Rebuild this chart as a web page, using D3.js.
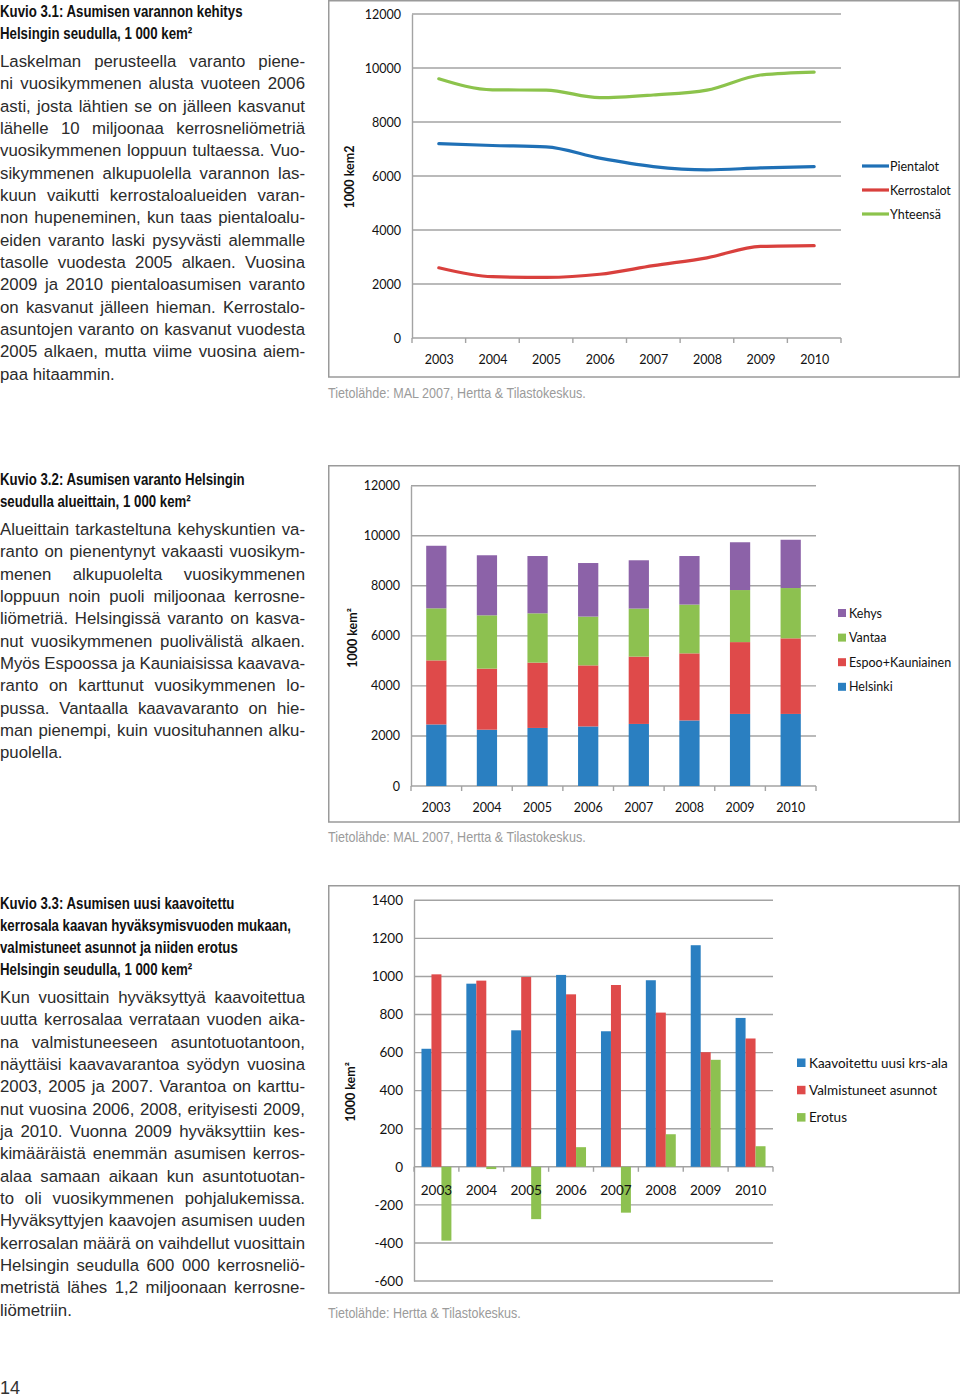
<!DOCTYPE html>
<html>
<head>
<meta charset="utf-8">
<script src="https://cdn.jsdelivr.net/npm/d3@7"></script>
<style>
  html, body { margin: 0; padding: 0; background: #fff; }
  svg { display: block; }
</style>
</head>
<body>
<script>
// ---------------- DATA ----------------
const years = ["2003", "2004", "2005", "2006", "2007", "2008", "2009", "2010"];

// Kuvio 3.1
const pientalot   = [7200, 7130, 7080, 6660, 6350, 6230, 6300, 6350];
const kerrostalot = [2600, 2270, 2245, 2360, 2680, 2970, 3390, 3420];
const yhteensa    = [9600, 9190, 9180, 8900, 9000, 9180, 9740, 9850];
const yTicks1 = [0, 2000, 4000, 6000, 8000, 10000, 12000];

// Kuvio 3.2
const helsinki = [2460, 2250, 2320, 2380, 2480, 2620, 2880, 2880];
const espoo    = [2560, 2440, 2610, 2440, 2690, 2680, 2870, 3020];
const vantaa   = [2080, 2130, 1970, 1950, 1920, 1950, 2080, 2010];
const kehys    = [2500, 2400, 2290, 2140, 1930, 1940, 1910, 1930];
const yTicks2 = [0, 2000, 4000, 6000, 8000, 10000, 12000];

// Kuvio 3.3
const kaavoitettu  = [620, 962, 717, 1008, 712, 980, 1164, 782];
const valmistuneet = [1011, 978, 997, 906, 955, 810, 602, 674];
const erotus       = [-388, -12, -275, 103, -241, 171, 562, 108];
const yTicks3 = [-600, -400, -200, 0, 200, 400, 600, 800, 1000, 1200, 1400];

// ---------------- STYLE ----------------
const BODY = "'Liberation Sans', Arial, Helvetica, sans-serif";
const COND = "'Liberation Sans', Arial, sans-serif";
const CHART = "Lato, 'Open Sans', sans-serif";
const C_BLUE = "#2a7fc1", C_RED = "#df4a4a", C_GREEN = "#8dc150", C_PURPLE = "#8c62a8";
const L_BLUE = "#1f70b6", L_RED = "#d9403d", L_GREEN = "#8cc34c";
const GRID = "#a3a3a3";

const svg = d3.select("body").append("svg").attr("width", 960).attr("height", 1399);

// ---------------- LEFT TEXT ----------------
let titleScale = null;
function getTitleScale() {
  if (titleScale) return titleScale;
  const probe = svg.append("text").attr("font-family", COND).attr("font-weight", "bold")
    .attr("font-size", 16).text("kerrosala kaavan hyväksymisvuoden mukaan,");
  const w = probe.node().getComputedTextLength();
  probe.remove();
  titleScale = 291 / w;
  return titleScale;
}
function titleBlock(lines, yFirst) {
  const s = getTitleScale();
  const g = svg.append("g").attr("transform", `scale(${s},1)`);
  lines.forEach((t, i) => {
    g.append("text").attr("x", 0).attr("y", yFirst + i * 22).attr("dy", "0.36em")
      .attr("font-family", COND).attr("font-weight", "bold").attr("font-size", 16)
      .attr("fill", "#111").text(t);
  });
}
function bodyBlock(lines, yFirst, width) {
  const g = svg.append("g");
  lines.forEach((t, i) => {
    const txt = g.append("text").attr("x", 0).attr("y", yFirst + i * 22.32).attr("dy", "0.36em")
      .attr("font-family", BODY).attr("font-size", 16.8).attr("fill", "#2b2b2b")
      .text(t);
    const node = txt.node();
    const nat = node.getComputedTextLength();
    const last = i === lines.length - 1;
    if (!last) {
      const spaces = (t.match(/ /g) || []).length;
      if (nat < width && spaces > 0) {
        txt.style("word-spacing", ((width - nat) / spaces) + "px");
      } else if (nat > width) {
        txt.attr("textLength", width).attr("lengthAdjust", "spacing");
      }
    } else if (nat > width) {
      txt.attr("textLength", width).attr("lengthAdjust", "spacing");
    }
  });
}

titleBlock(["Kuvio 3.1: Asumisen varannon kehitys", "Helsingin seudulla, 1 000 kem²"], 11);
bodyBlock([
  "Laskelman perusteella varanto piene-",
  "ni vuosikymmenen alusta vuoteen 2006",
  "asti, josta lähtien se on jälleen kasvanut",
  "lähelle 10 miljoonaa kerrosneliömetriä",
  "vuosikymmenen loppuun tultaessa. Vuo-",
  "sikymmenen alkupuolella varannon las-",
  "kuun vaikutti kerrostaloalueiden varan-",
  "non hupeneminen, kun taas pientaloalu-",
  "eiden varanto laski pysyvästi alemmalle",
  "tasolle vuodesta 2005 alkaen. Vuosina",
  "2009 ja 2010 pientaloasumisen varanto",
  "on kasvanut jälleen hieman. Kerrostalo-",
  "asuntojen varanto on kasvanut vuodesta",
  "2005 alkaen, mutta viime vuosina aiem-",
  "paa hitaammin."
], 61, 305);

titleBlock(["Kuvio 3.2: Asumisen varanto Helsingin", "seudulla alueittain, 1 000 kem²"], 479);
bodyBlock([
  "Alueittain tarkasteltuna kehyskuntien va-",
  "ranto on pienentynyt vakaasti vuosikym-",
  "menen alkupuolelta vuosikymmenen",
  "loppuun noin puoli miljoonaa kerrosne-",
  "liömetriä. Helsingissä varanto on kasva-",
  "nut vuosikymmenen puolivälistä alkaen.",
  "Myös Espoossa ja Kauniaisissa kaavava-",
  "ranto on karttunut vuosikymmenen lo-",
  "pussa. Vantaalla kaavavaranto on hie-",
  "man pienempi, kuin vuosituhannen alku-",
  "puolella."
], 529, 305);

titleBlock(["Kuvio 3.3: Asumisen uusi kaavoitettu",
            "kerrosala kaavan hyväksymisvuoden mukaan,",
            "valmistuneet asunnot ja niiden erotus",
            "Helsingin seudulla, 1 000 kem²"], 903);
bodyBlock([
  "Kun vuosittain hyväksyttyä kaavoitettua",
  "uutta kerrosalaa verrataan vuoden aika-",
  "na valmistuneeseen asuntotuotantoon,",
  "näyttäisi kaavavarantoa syödyn vuosina",
  "2003, 2005 ja 2007. Varantoa on karttu-",
  "nut vuosina 2006, 2008, erityisesti 2009,",
  "ja 2010. Vuonna 2009 hyväksyttiin kes-",
  "kimääräistä enemmän asumisen kerros-",
  "alaa samaan aikaan kun asuntotuotan-",
  "to oli vuosikymmenen pohjalukemissa.",
  "Hyväksyttyjen kaavojen asumisen uuden",
  "kerrosalan määrä on vaihdellut vuosittain",
  "Helsingin seudulla 600 000 kerrosneliö-",
  "metristä lähes 1,2 miljoonaan kerrosne-",
  "liömetriin."
], 997, 305);

svg.append("text").attr("x", 0).attr("y", 1388).attr("dy", "0.36em")
  .attr("font-family", BODY).attr("font-size", 18).attr("fill", "#333").text("14");

// ---------------- HELPERS ----------------
function frame(y0, y1) {
  svg.append("rect").attr("x", 328.75).attr("y", y0).attr("width", 630.5).attr("height", y1 - y0)
    .attr("fill", "none").attr("stroke", "#9a9a9a").attr("stroke-width", 1.5);
}
function source(t, y, targetW) {
  const probe = svg.append("text").attr("font-family", COND).attr("font-size", 14).text(t);
  const w = probe.node().getComputedTextLength();
  probe.remove();
  const s = targetW / w;
  svg.append("g").attr("transform", `translate(328,0) scale(${s},1)`)
    .append("text").attr("x", 0).attr("y", y).attr("dy", "0.36em")
    .attr("font-family", COND).attr("font-size", 14).attr("fill", "#9b9b9b").text(t);
}
function yTitle(x, yc, t) {
  svg.append("text").attr("transform", `translate(${x},${yc}) rotate(-90)`)
    .attr("text-anchor", "middle").attr("dy", "0.36em")
    .attr("font-family", CHART).attr("font-weight", "bold").attr("font-size", 12.5)
    .attr("fill", "#111").text(t);
}
function grid(g, y, ticks, x0, x1) {
  g.selectAll(null).data(ticks).join("line")
    .attr("x1", x0).attr("x2", x1).attr("y1", d => y(d)).attr("y2", d => y(d))
    .attr("stroke", GRID).attr("stroke-width", 1.4);
}
function yAxis(g, y, ticks, x0, fs) {
  const ax = g.append("g").attr("transform", `translate(${x0},0)`)
    .call(d3.axisLeft(y).tickValues(ticks).tickSize(0).tickPadding(11).tickFormat(d => String(d)));
  ax.select(".domain").attr("stroke", GRID).attr("stroke-width", 1.4);
  ax.selectAll("text").attr("font-family", CHART).attr("font-size", fs).attr("fill", "#111");
}
function xAxis(g, x, yPos, labelOffset, fs, boundaries) {
  const ax = g.append("g").attr("transform", `translate(0,${yPos})`)
    .call(d3.axisBottom(x).tickSize(0).tickPadding(labelOffset));
  ax.select(".domain").remove();
  ax.selectAll("text").attr("font-family", CHART).attr("font-size", fs).attr("fill", "#111");
  g.selectAll(null).data(boundaries).join("line")
    .attr("x1", d => d).attr("x2", d => d).attr("y1", yPos).attr("y2", yPos + 5)
    .attr("stroke", GRID).attr("stroke-width", 1.4);
  return ax;
}

// ---------------- CHART 1 ----------------
{
  frame(0.75, 377);
  const g = svg.append("g");
  const x = d3.scalePoint().domain(years).range([412, 841]).padding(0.5);
  const y = d3.scaleLinear().domain([0, 12000]).range([338, 14]);
  grid(g, y, yTicks1, 412, 841);
  yAxis(g, y, yTicks1, 412, 12.5);
  const step = x.step();
  const bounds = d3.range(years.length + 1).map(i => 412 + i * step);
  xAxis(g, x, 338, 17, 12.5, bounds);
  yTitle(349, 177, "1000 kem2");

  const series = [
    { name: "Pientalot", values: pientalot, color: L_BLUE },
    { name: "Kerrostalot", values: kerrostalot, color: L_RED },
    { name: "Yhteensä", values: yhteensa, color: L_GREEN }
  ];
  const line = d3.line().x((d, i) => x(years[i])).y(d => y(d)).curve(d3.curveMonotoneX);
  g.selectAll(null).data(series).join("path")
    .attr("d", d => line(d.values)).attr("fill", "none")
    .attr("stroke", d => d.color).attr("stroke-width", 3.2).attr("stroke-linecap", "round");

  const lg = g.append("g");
  series.forEach((s, i) => {
    const yy = 166 + i * 24;
    lg.append("line").attr("x1", 862).attr("x2", 889).attr("y1", yy).attr("y2", yy)
      .attr("stroke", s.color).attr("stroke-width", 3.2);
    lg.append("text").attr("x", 890).attr("y", yy).attr("dy", "0.36em")
      .attr("font-family", CHART).attr("font-size", 12.5).attr("fill", "#111").text(s.name);
  });
  source("Tietolähde: MAL 2007, Hertta & Tilastokeskus.", 393, 258);
}

// ---------------- CHART 2 ----------------
{
  frame(465.75, 822);
  const g = svg.append("g");
  const x = d3.scaleBand().domain(years).range([411, 816]).paddingInner(0.6).paddingOuter(0.3);
  const y = d3.scaleLinear().domain([0, 12000]).range([786, 485.7]);
  grid(g, y, yTicks2, 411, 816);
  yAxis(g, y, yTicks2, 411, 12.5);
  const step = x.step();
  const bounds = d3.range(years.length + 1).map(i => 411 + i * step);
  xAxis(g, x, 786, 17, 12.5, bounds);
  yTitle(352, 638, "1000 kem²");

  const keys = ["Helsinki", "Espoo+Kauniainen", "Vantaa", "Kehys"];
  const colors = { "Helsinki": C_BLUE, "Espoo+Kauniainen": C_RED, "Vantaa": C_GREEN, "Kehys": C_PURPLE };
  const table = years.map((yr, i) => ({
    year: yr, "Helsinki": helsinki[i], "Espoo+Kauniainen": espoo[i], "Vantaa": vantaa[i], "Kehys": kehys[i]
  }));
  const stacked = d3.stack().keys(keys)(table);
  g.selectAll(null).data(stacked).join("g").attr("fill", d => colors[d.key])
    .selectAll("rect").data(d => d).join("rect")
    .attr("x", d => x(d.data.year)).attr("width", x.bandwidth())
    .attr("y", d => y(d[1])).attr("height", d => y(d[0]) - y(d[1]));

  const legendOrder = ["Kehys", "Vantaa", "Espoo+Kauniainen", "Helsinki"];
  legendOrder.forEach((k, i) => {
    const yy = 613 + i * 24.6;
    g.append("rect").attr("x", 838).attr("y", yy - 4).attr("width", 8).attr("height", 8).attr("fill", colors[k]);
    g.append("text").attr("x", 849).attr("y", yy).attr("dy", "0.36em")
      .attr("font-family", CHART).attr("font-size", 12.5).attr("fill", "#111").text(k);
  });
  source("Tietolähde: MAL 2007, Hertta & Tilastokeskus.", 837, 258);
}

// ---------------- CHART 3 ----------------
{
  frame(885.75, 1293);
  const g = svg.append("g");
  const x = d3.scaleBand().domain(years).range([414, 773]).paddingInner(0.333).paddingOuter(0.1665);
  const y = d3.scaleLinear().domain([-600, 1400]).range([1281, 900.3]);
  grid(g, y, yTicks3, 414, 773);
  yAxis(g, y, yTicks3, 414, 13.5);
  yTitle(350, 1092, "1000 kem²");

  const keys = ["Kaavoitettu uusi krs-ala", "Valmistuneet asunnot", "Erotus"];
  const vals = { "Kaavoitettu uusi krs-ala": kaavoitettu, "Valmistuneet asunnot": valmistuneet, "Erotus": erotus };
  const colors = { "Kaavoitettu uusi krs-ala": C_BLUE, "Valmistuneet asunnot": C_RED, "Erotus": C_GREEN };
  const xs = d3.scaleBand().domain(keys).range([0, x.bandwidth()]);
  const table = years.map((yr, i) => ({ year: yr, vals: keys.map(k => ({ key: k, v: vals[k][i] })) }));
  g.selectAll(null).data(table).join("g").attr("transform", d => `translate(${x(d.year)},0)`)
    .selectAll("rect").data(d => d.vals).join("rect")
    .attr("x", d => xs(d.key)).attr("width", xs.bandwidth())
    .attr("y", d => y(Math.max(0, d.v))).attr("height", d => Math.abs(y(d.v) - y(0)))
    .attr("fill", d => colors[d.key]);

  const step = x.step();
  const bounds = d3.range(years.length + 1).map(i => 414 + i * step);
  const ax = xAxis(g, x, y(0), 19, 13.5, bounds);
  ax.raise();

  keys.forEach((k, i) => {
    const yy = 1063 + i * 27.3;
    g.append("rect").attr("x", 797).attr("y", yy - 4.5).attr("width", 8.5).attr("height", 8.5).attr("fill", colors[k]);
    g.append("text").attr("x", 809).attr("y", yy).attr("dy", "0.36em")
      .attr("font-family", CHART).attr("font-size", 13.5).attr("fill", "#111").text(k);
  });
  source("Tietolähde: Hertta & Tilastokeskus.", 1313, 193);
}
</script>
</body>
</html>
